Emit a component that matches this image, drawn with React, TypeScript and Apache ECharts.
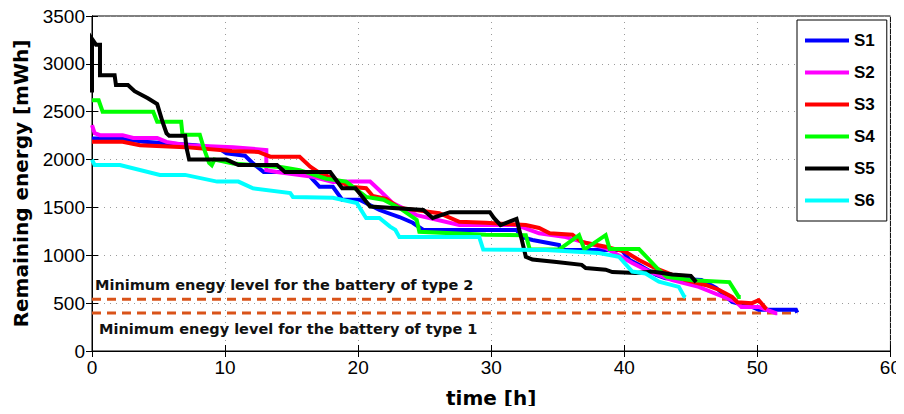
import React, { useEffect, useRef } from "react";
import * as echarts from "echarts";

const seriesNames = ["S1", "S2", "S3", "S4", "S5", "S6"];
const seriesColors = ["#0000FF", "#FF00FF", "#FF0000", "#00FF00", "#000000", "#00FFFF"];

const s1: number[][] = [[0,2220],[2.1,2220],[3.9,2185],[7.8,2150],[9.5,2120],[10.1,2065],[11.5,2040],[12.1,1960],[12.9,1870],[16.1,1870],[16.6,1790],[17.1,1715],[18.1,1715],[18.8,1580],[20.1,1580],[21.6,1473],[23.1,1400],[24.1,1340],[24.9,1265],[31.9,1265],[32.3,1190],[33.1,1160],[35.1,1107],[35.2,1055],[39.8,1055],[40.4,950],[41.1,900],[42.4,795],[43.1,760],[45.8,742],[46.9,660],[48.1,512],[49.6,460],[50.1,430],[52.9,430],[53,400]];
const s2: number[][] = [[0,2360],[0.2,2275],[0.6,2255],[2.3,2255],[3.1,2225],[4.9,2225],[5.6,2185],[7.1,2150],[10.6,2130],[13.1,2100],[13.1,1890],[13.9,1870],[16.6,1820],[18.1,1765],[19.5,1770],[20.9,1770],[21.6,1680],[22.6,1545],[24.4,1420],[27.6,1316],[31.9,1316],[33.6,1230],[35.6,1190],[37.1,1130],[38.6,1075],[40.6,920],[41.9,830],[43.6,740],[45.6,670],[47.1,585],[48.4,515],[48.8,460],[50.1,460],[51.4,395],[51.5,395]];
const s3: number[][] = [[0,2185],[2.3,2185],[3.6,2150],[7,2130],[10.5,2090],[12.5,2080],[13.4,2030],[15.6,2030],[16.4,1925],[17.1,1860],[18.1,1805],[19.4,1715],[20.6,1700],[21.1,1620],[22.1,1590],[23.1,1495],[26.1,1440],[27.6,1350],[29.6,1340],[32.6,1316],[33.6,1285],[34.4,1230],[36.1,1215],[36.8,1140],[38.6,1090],[40.1,1035],[41.1,950],[42.1,880],[43.1,825],[44.6,740],[46.1,690],[47.1,640],[48.1,565],[48.5,510],[49.6,500],[50.1,530],[50.6,450],[50.7,440]];
const s4: number[][] = [[0,2620],[0.5,2620],[0.8,2500],[4.6,2500],[4.9,2395],[6.7,2395],[6.8,2260],[8.1,2260],[8.4,2120],[8.8,1965],[9,1940],[9.2,2000],[10.6,1960],[14.3,1920],[15.6,1890],[17.6,1800],[19.1,1770],[20.6,1610],[21.9,1580],[23.1,1495],[24.4,1370],[24.6,1245],[29.6,1215],[32.6,1210],[32.9,1060],[35.1,1060],[36.6,1210],[37,1060],[38.6,1210],[38.9,1065],[41.1,1065],[41.9,950],[42.6,845],[43.2,775],[45.1,740],[47.9,720],[48.6,565],[48.75,565]];
const s5: number[][] = [[0,2700],[0,3260],[0.3,3200],[0.6,3200],[0.6,2880],[1.7,2880],[1.8,2780],[2.7,2780],[3.2,2715],[4.2,2640],[4.9,2580],[5.3,2395],[5.6,2275],[5.8,2250],[7,2250],[7.1,2125],[7.3,2000],[10.1,2000],[11,1943],[13.9,1943],[14.5,1870],[17.9,1870],[18.8,1700],[19.8,1700],[20.9,1510],[24.9,1473],[25.6,1390],[26.9,1450],[29.9,1450],[30.2,1390],[30.7,1316],[31.9,1380],[32.3,1160],[32.6,985],[33.1,955],[34.9,930],[36.8,900],[37.1,867],[38.6,850],[39.1,825],[40.9,815],[42.1,830],[43.6,800],[45,785],[45.4,720]];
const s6: number[][] = [[0,2000],[0.2,1943],[2.1,1943],[5.1,1840],[7,1840],[9.4,1770],[11,1770],[12.1,1700],[14.9,1650],[15.1,1610],[18.1,1600],[19.9,1545],[20.6,1390],[21.6,1390],[22.4,1300],[22.8,1265],[23.1,1190],[29.1,1190],[29.4,1060],[34.1,1055],[38.1,1024],[39.6,985],[40.6,830],[41.6,810],[42.6,725],[44.1,670],[44.5,570],[44.6,560]];
const seriesData = [s1, s2, s3, s4, s5, s6];

const type2Level: number[][] = [[0,540],[48.5,540]];
const type1Level: number[][] = [[0,396],[53,396]];
const levelLabels = ["Minimum enegy level for the battery of type 2", "Minimum enegy level for the battery of type 1"];

const xTicks = [0, 60, 10];
const yTicks = [0, 3500, 500];

const FONT = "'Liberation Sans', Arial, sans-serif";
const WIDE = "'DejaVu Sans', sans-serif";

export default function App() {
  const ref = useRef<HTMLDivElement>(null);
  useEffect(() => {
    if (!ref.current) return;
    const chart = echarts.init(ref.current, undefined, { renderer: "svg" });
    const grid = { left: 92, right: 12, top: 16, bottom: 63 };
    const splitLine = { show: true, lineStyle: { color: "#9a9a9a", type: [1, 5] as any, width: 1 } };
    const lineSeries = seriesData.map((d, i) => ({
      name: seriesNames[i],
      type: "line",
      data: d,
      showSymbol: false,
      color: seriesColors[i],
      lineStyle: { width: 4, color: seriesColors[i], join: "miter" },
      z: 3 + i,
    }));
    const dashed = [type2Level, type1Level].map((d) => ({
      type: "line",
      data: d,
      showSymbol: false,
      color: "#D95319",
      lineStyle: { width: 3, color: "#D95319", type: [9, 6] as any },
      z: 2,
      legendHoverLink: false,
    }));
    chart.setOption({
      animation: false,
      backgroundColor: "#fff",
      textStyle: { fontFamily: FONT },
      grid: { ...grid, show: true, borderColor: "#000", borderWidth: 1, backgroundColor: "transparent" },
      legend: {
        data: seriesNames,
        orient: "vertical",
        left: 797,
        top: 20,
        padding: [12, 12, 12, 8],
        itemGap: 15,
        itemWidth: 44,
        itemHeight: 4,
        icon: "rect",
        borderColor: "#000",
        borderWidth: 1,
        backgroundColor: "#fff",
        textStyle: { fontFamily: FONT, fontSize: 17, fontWeight: "bold", color: "#000", lineHeight: 16 },
      },
      xAxis: [
        {
          type: "value",
          min: xTicks[0],
          max: xTicks[1],
          interval: xTicks[2],
          name: "time [h]",
          nameLocation: "middle",
          nameGap: 37,
          nameTextStyle: { fontFamily: WIDE, fontSize: 20, fontWeight: "bold", color: "#000" },
          axisLine: { show: true, lineStyle: { color: "#000", width: 1 } },
          axisTick: { show: true, inside: true, length: 6, lineStyle: { color: "#000" } },
          axisLabel: { fontSize: 19, color: "#000", margin: 7, fontFamily: FONT, formatter: (v: number) => String(v) },
          splitLine,
        },
        {
          type: "value",
          position: "top",
          min: xTicks[0],
          max: xTicks[1],
          interval: xTicks[2],
          axisLine: { show: true, lineStyle: { color: "#000" } },
          axisTick: { show: true, inside: true, length: 6, lineStyle: { color: "#000" } },
          axisLabel: { show: false },
          splitLine: { show: false },
        },
      ],
      yAxis: [
        {
          type: "value",
          min: yTicks[0],
          max: yTicks[1],
          interval: yTicks[2],
          name: "Remaining energy [mWh]",
          nameLocation: "middle",
          nameGap: 61,
          nameTextStyle: { fontFamily: WIDE, fontSize: 20, fontWeight: "bold", color: "#000" },
          axisLine: { show: true, lineStyle: { color: "#000", width: 1 } },
          axisTick: { show: true, inside: true, length: 6, lineStyle: { color: "#000" } },
          axisLabel: { fontSize: 19, color: "#000", margin: 7, fontFamily: FONT, formatter: (v: number) => String(v) },
          splitLine,
        },
        {
          type: "value",
          position: "right",
          min: yTicks[0],
          max: yTicks[1],
          interval: yTicks[2],
          axisLine: { show: true, lineStyle: { color: "#000" } },
          axisTick: { show: true, inside: true, length: 6, lineStyle: { color: "#000" } },
          axisLabel: { show: false },
          splitLine: { show: false },
        },
      ],
      graphic: [
        { type: "text", x: 95, y: 285, style: { text: levelLabels[0], font: `bold 14.5px ${WIDE}`, fill: "#111", verticalAlign: "middle" }, z: 10 },
        { type: "text", x: 99, y: 329, style: { text: levelLabels[1], font: `bold 14.5px ${WIDE}`, fill: "#111", verticalAlign: "middle" }, z: 10 },
      ],
      series: [...dashed, ...lineSeries],
    });
    return () => chart.dispose();
  }, []);
  return <div ref={ref} style={{ width: 904, height: 414, margin: -8 }} />;
}
